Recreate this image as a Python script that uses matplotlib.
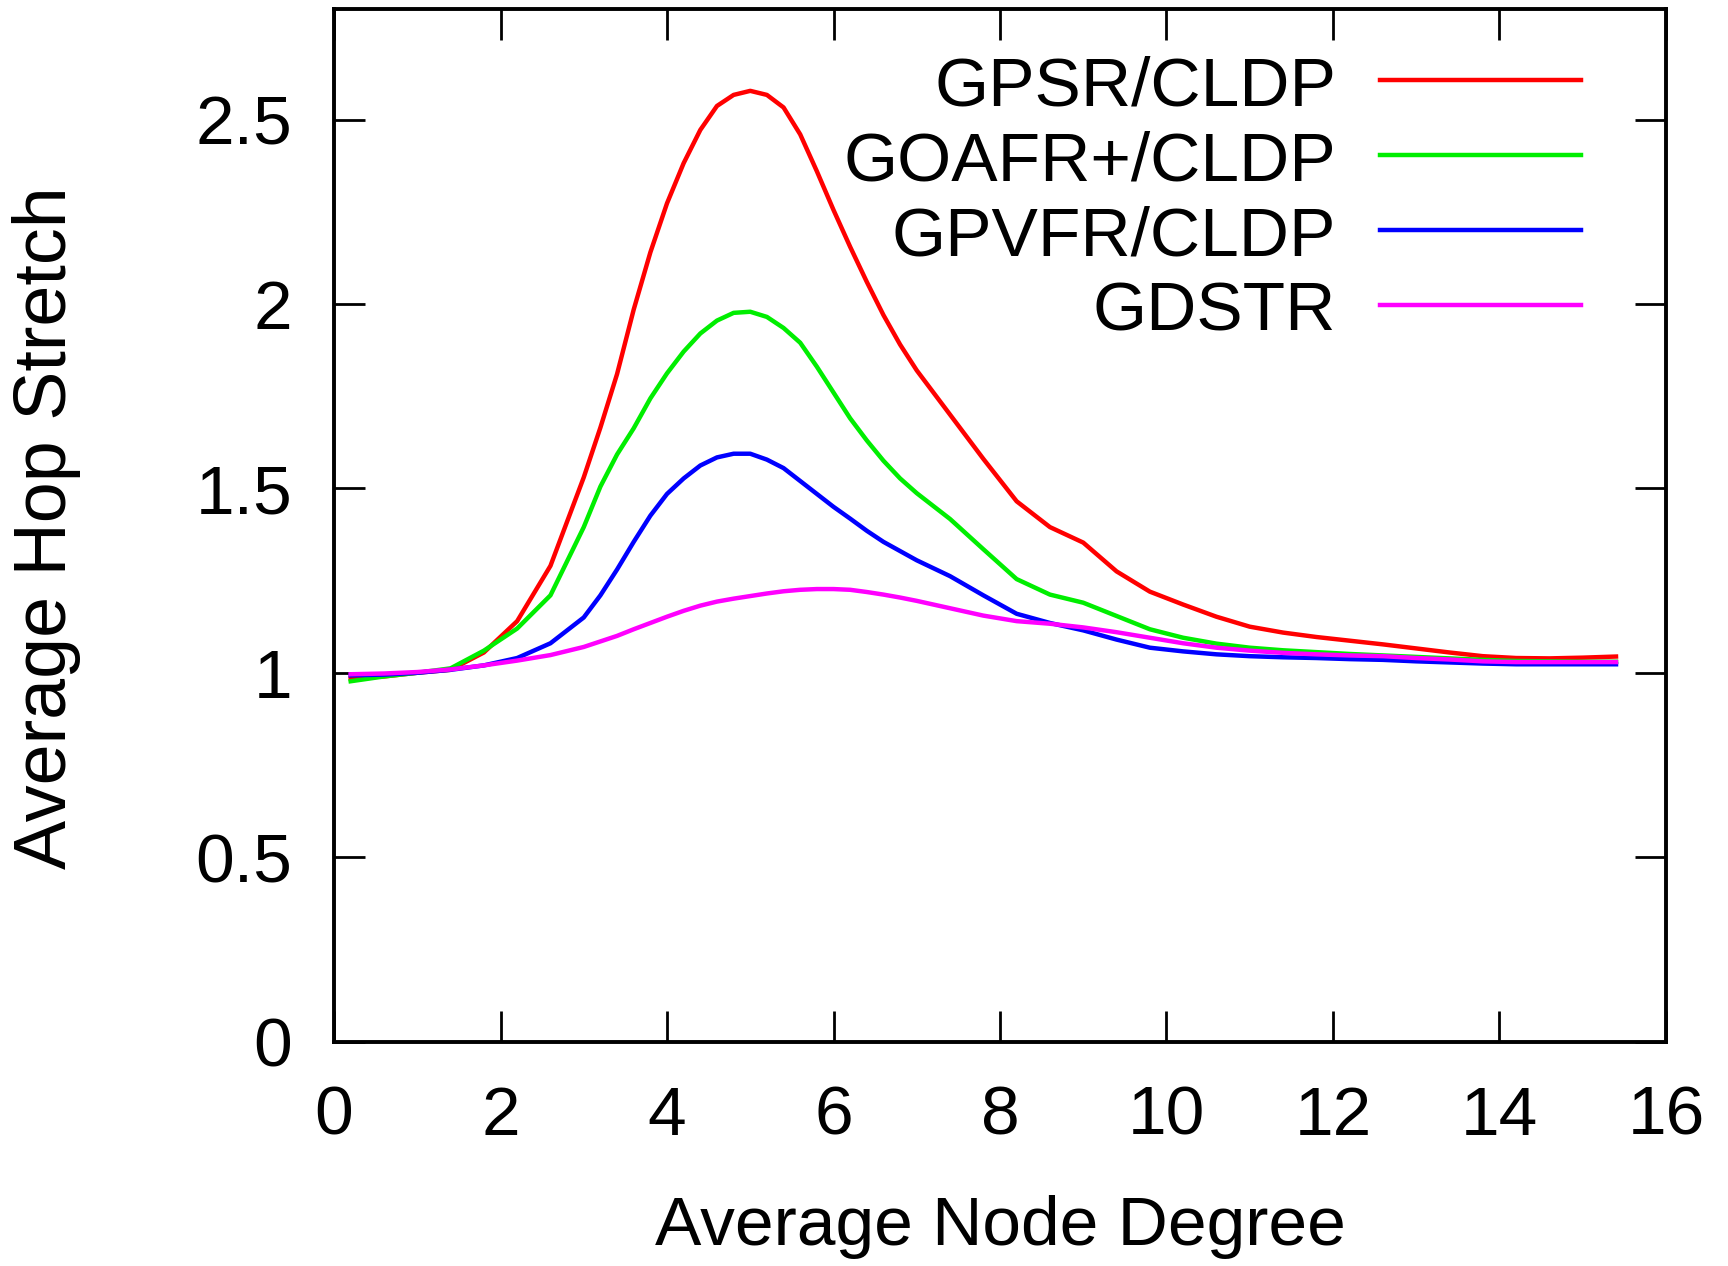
import matplotlib
matplotlib.use("Agg")
import matplotlib.pyplot as plt

plt.rcParams['font.family'] = ['Liberation Sans', 'DejaVu Sans']

# Average node degree sample points (denser around the peak)
degree = [0.2, 0.6, 1.0, 1.4, 1.8, 2.2, 2.6, 3.0, 3.2, 3.4, 3.6, 3.8, 4.0,
          4.2, 4.4, 4.6, 4.8, 5.0, 5.2, 5.4, 5.6, 5.8, 6.0, 6.2, 6.4, 6.6,
          6.8, 7.0, 7.4, 7.8, 8.2, 8.6, 9.0, 9.4, 9.8, 10.2, 10.6, 11.0,
          11.4, 11.8, 12.2, 12.6, 13.0, 13.4, 13.8, 14.2, 14.6, 15.0, 15.4]

gpsr_cldp = [0.985, 0.99, 1.0, 1.008, 1.055, 1.14, 1.29, 1.53, 1.665, 1.81,
             1.985, 2.14, 2.273, 2.382, 2.472, 2.537, 2.567, 2.578, 2.567,
             2.533, 2.46, 2.36, 2.255, 2.155, 2.06, 1.97, 1.89, 1.82, 1.70,
             1.58, 1.465, 1.395, 1.353, 1.275, 1.22, 1.185, 1.152, 1.125,
             1.109, 1.097, 1.087, 1.077, 1.066, 1.055, 1.045, 1.040, 1.039,
             1.041, 1.044]
goafr_cldp = [0.977, 0.99, 1.0, 1.012, 1.06, 1.12, 1.21, 1.395, 1.505, 1.592,
              1.663, 1.744, 1.812, 1.871, 1.92, 1.955, 1.976, 1.979, 1.965,
              1.935, 1.895, 1.83, 1.76, 1.69, 1.63, 1.575, 1.527, 1.487,
              1.417, 1.335, 1.254, 1.212, 1.19, 1.154, 1.118, 1.095, 1.079,
              1.068, 1.061, 1.056, 1.051, 1.047, 1.043, 1.039, 1.035, 1.032,
              1.031, 1.030, 1.030]
gpvfr_cldp = [0.993, 0.995, 1.0, 1.008, 1.02, 1.04, 1.08, 1.15, 1.21, 1.28,
              1.355, 1.426, 1.485, 1.527, 1.562, 1.584, 1.594, 1.594, 1.578,
              1.555, 1.52, 1.485, 1.45, 1.418, 1.385, 1.355, 1.33, 1.305,
              1.262, 1.21, 1.16, 1.135, 1.115, 1.09, 1.068, 1.058, 1.05,
              1.045, 1.042, 1.040, 1.037, 1.035, 1.031, 1.028, 1.025, 1.023,
              1.023, 1.023, 1.023]
gdstr = [0.996, 0.998, 1.002, 1.009, 1.02, 1.033, 1.048, 1.07, 1.085, 1.10,
         1.118, 1.135, 1.152, 1.168, 1.182, 1.193, 1.201, 1.208, 1.215, 1.221,
         1.225, 1.227, 1.227, 1.225, 1.219, 1.212, 1.204, 1.195, 1.175, 1.155,
         1.14, 1.133, 1.123, 1.11, 1.095, 1.08, 1.068, 1.06, 1.054, 1.05,
         1.047, 1.045, 1.04, 1.036, 1.031, 1.029, 1.029, 1.029, 1.029]

series_names = ['GPSR/CLDP', 'GOAFR+/CLDP', 'GPVFR/CLDP', 'GDSTR']
series_colors = ['#ff0000', '#00ee00', '#0000ff', '#ff00ff']

x_ticks = [0, 2, 4, 6, 8, 10, 12, 14, 16]
y_ticks = [0, 0.5, 1, 1.5, 2, 2.5]
y_tick_labels = ['0', '0.5', '1', '1.5', '2', '2.5']

fig = plt.figure(figsize=(17.28, 12.66), dpi=100)
ax = fig.add_axes([0.1933, 0.1773, 0.7708, 0.8156])

for vals, name, col in zip([gpsr_cldp, goafr_cldp, gpvfr_cldp, gdstr],
                           series_names, series_colors):
    ax.plot(degree, vals, color=col, lw=3.2, label=name,
            solid_joinstyle='round')

ax.set_xlim(0, 16)
ax.set_ylim(0, 2.8)
ax.set_xticks(x_ticks)
ax.set_yticks(y_ticks)
ax.set_yticklabels(y_tick_labels)

ax.tick_params(axis='both', which='major', direction='in', length=22, width=2,
               top=True, right=True, labelsize=50, colors='black')
ax.tick_params(axis='x', pad=31)
ax.tick_params(axis='y', pad=30)
for sp in ax.spines.values():
    sp.set_linewidth(2.8)

ax.set_xlabel('Average Node Degree', fontsize=50)
ax.set_ylabel('Average Hop Stretch', fontsize=53)
ax.xaxis.set_label_coords(0.5, -0.1797)
ax.xaxis.label.set_va('center')
ax.yaxis.set_label_coords(-0.2162, 0.498)
ax.yaxis.label.set_va('center')

# Key in the upper right: right-aligned names followed by line samples
key_rows = [0.9308, 0.8582, 0.7857, 0.7130]
text_right = 0.7523
sample_x = [0.7853, 0.9362]
for name, col, ry in zip(series_names, series_colors, key_rows):
    ax.text(text_right, ry - 0.0241, name, transform=ax.transAxes,
            ha='right', va='baseline', fontsize=50)
    ax.plot(sample_x, [ry, ry], color=col, lw=3.2,
            transform=ax.transAxes, clip_on=False)

fig.savefig('out.png', dpi=100)
